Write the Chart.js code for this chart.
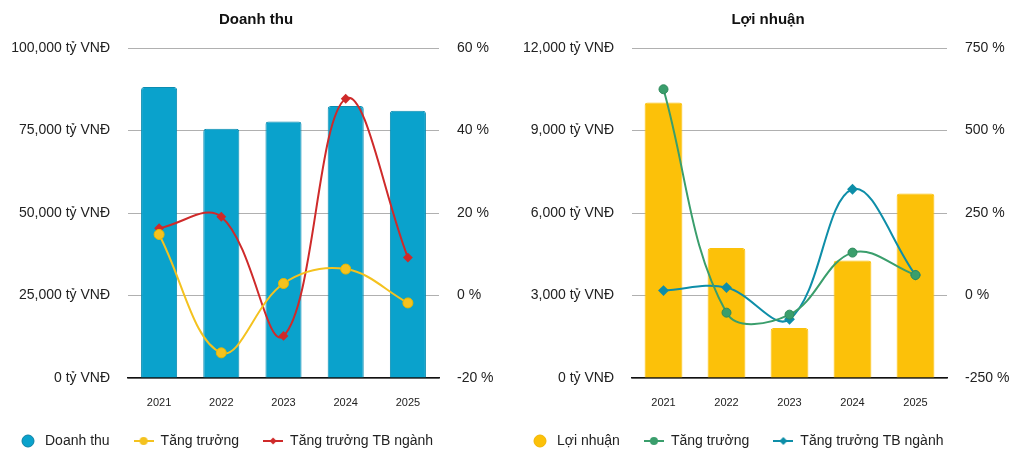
<!DOCTYPE html>
<html lang="vi">
<head>
<meta charset="UTF-8">
<title>Doanh thu - Lợi nhuận</title>
<script src="https://cdn.jsdelivr.net/npm/chart.js"></script>
<style>
  body { margin: 0; background: #fff; }
  .wrap { position: absolute; top: 0; width: 512px; height: 459px; }
  #left { left: 0; }
  #right { left: 512px; }
</style>
</head>
<body>
<div class="wrap" id="left"><canvas id="revChart" width="512" height="459"></canvas></div>
<div class="wrap" id="right"><canvas id="profitChart" width="512" height="459"></canvas></div>

<script>
// dữ liệu
const years = ['2021', '2022', '2023', '2024', '2025'];

const revenue = [88200, 75500, 77700, 82400, 81000];       // tỷ VNĐ
const revGrowth = [14.8, -13.9, 2.9, 6.4, -1.8];            // %
const revIndustry = [16.3, 19.1, -9.8, 47.7, 9.2];          // %

const profit = [10020, 4730, 1820, 4270, 6710];             // tỷ VNĐ
const profitGrowth = [625, -52, -58, 130, 62];              // %
const profitIndustry = [15, 24, -72, 322, 62];              // %

const revTicks = { min: 0, max: 100000, step: 25000 };
const revPctTicks = { min: -20, max: 60, step: 20 };
const profitTicks = { min: 0, max: 12000, step: 3000 };
const profitPctTicks = { min: -250, max: 750, step: 250 };

Chart.defaults.font.family = '"Liberation Sans", Arial, sans-serif';
Chart.defaults.color = '#222';

// icon cho legend
function dotIcon(fill, stroke) {
    const c = document.createElement('canvas');
    c.width = 14; c.height = 14;
    const g = c.getContext('2d');
    g.beginPath();
    g.arc(7, 7, 6, 0, Math.PI * 2);
    g.fillStyle = fill; g.fill();
    g.lineWidth = 1; g.strokeStyle = stroke; g.stroke();
    return c;
}
function lineIcon(color, shape, r) {
    const c = document.createElement('canvas');
    c.width = 20; c.height = 12;
    const g = c.getContext('2d');
    g.strokeStyle = color; g.lineWidth = 2;
    g.beginPath(); g.moveTo(0, 6); g.lineTo(20, 6); g.stroke();
    g.fillStyle = color;
    g.beginPath();
    if (shape === 'circle') {
        g.arc(10, 6, r, 0, Math.PI * 2);
    } else {
        g.moveTo(10, 6 - r); g.lineTo(10 + r, 6); g.lineTo(10, 6 + r); g.lineTo(10 - r, 6); g.closePath();
    }
    g.fill();
    return c;
}

const legendShift = {
    id: 'legendShift',
    afterLayout(chart) {
        chart.legend.left -= 6;
        chart.legend.right -= 6;
    }
};

function makeChart(id, cfg) {
    const ctx = document.getElementById(id).getContext('2d');
    return new Chart(ctx, {
        data: {
            labels: years,
            datasets: [
                {
                    type: 'bar', label: cfg.barLabel, data: cfg.bars, yAxisID: 'y', order: 1,
                    backgroundColor: cfg.barColor, borderColor: cfg.barBorder, borderWidth: 1,
                    borderRadius: 3, borderSkipped: 'bottom',
                    categoryPercentage: 0.8, barPercentage: cfg.barPct
                },
                {
                    type: 'line', label: 'Tăng trưởng', data: cfg.growth, yAxisID: 'y1', order: 0,
                    borderColor: cfg.growthColor, backgroundColor: cfg.growthColor, borderWidth: 2,
                    pointStyle: 'circle', pointRadius: cfg.growthRadius, pointBorderWidth: 1,
                    pointBorderColor: cfg.growthBorder, tension: 0.38
                },
                {
                    type: 'line', label: 'Tăng trưởng TB ngành', data: cfg.industry, yAxisID: 'y1', order: 0,
                    borderColor: cfg.indColor, backgroundColor: cfg.indColor, borderWidth: 2,
                    pointStyle: 'rectRot', pointRadius: cfg.indRadius, tension: 0.38
                }
            ]
        },
        options: {
            responsive: false,
            animation: false,
            layout: { padding: { top: 1, bottom: 1, left: 0, right: 0 } },
            plugins: {
                title: {
                    display: true, text: cfg.title, color: '#111',
                    font: { size: 15, weight: 'bold' }, padding: { top: 10, bottom: 19 }
                },
                legend: {
                    position: 'bottom', align: 'start',
                    labels: {
                        usePointStyle: true, pointStyleWidth: 20, padding: 24,
                        font: { size: 14 }, color: '#222',
                        generateLabels(chart) {
                            const items = Chart.defaults.plugins.legend.labels.generateLabels(chart);
                            items.sort((a, b) => a.datasetIndex - b.datasetIndex);
                            items.forEach(it => { it.pointStyle = cfg.icons[it.datasetIndex]; });
                            return items;
                        }
                    }
                },
                tooltip: { enabled: false }
            },
            scales: {
                x: {
                    grid: { display: false, drawTicks: false },
                    border: { color: '#111', width: 1.5 },
                    ticks: { font: { size: 11 }, padding: 18, color: '#222' },
                    afterFit(s) { s.height = 32; }
                },
                y: {
                    position: 'left', min: cfg.yTicks.min, max: cfg.yTicks.max,
                    grid: { color: '#b0b0b0', drawTicks: false },
                    border: { display: false },
                    ticks: {
                        stepSize: cfg.yTicks.step, padding: 18, font: { size: 14 }, color: '#222',
                        callback: v => v.toLocaleString('en-US') + ' tỷ VNĐ'
                    },
                    afterFit(s) { s.width = cfg.leftW; }
                },
                y1: {
                    position: 'right', min: cfg.pTicks.min, max: cfg.pTicks.max,
                    grid: { display: false, drawTicks: false },
                    border: { display: false },
                    ticks: {
                        stepSize: cfg.pTicks.step, padding: 18, font: { size: 14 }, color: '#222',
                        callback: v => v + ' %'
                    },
                    afterFit(s) { s.width = cfg.rightW; }
                }
            }
        },
        plugins: [legendShift]
    });
}

makeChart('revChart', {
    title: 'Doanh thu', barLabel: 'Doanh thu', bars: revenue, growth: revGrowth, industry: revIndustry,
    barColor: '#0aa2cc', barBorder: '#0b8cb1', barPct: 0.725,
    growthColor: '#f4c21f', growthBorder: '#e8b800', growthRadius: 5,
    indColor: '#cf2a2a', indRadius: 3.5,
    yTicks: revTicks, pTicks: revPctTicks, leftW: 128, rightW: 73,
    icons: [dotIcon('#0aa2cc', '#0b7fa3'), lineIcon('#f4c21f', 'circle', 4), lineIcon('#cf2a2a', 'diamond', 3.5)]
});

makeChart('profitChart', {
    title: 'Lợi nhuận', barLabel: 'Lợi nhuận', bars: profit, growth: profitGrowth, industry: profitIndustry,
    barColor: '#fcc109', barBorder: '#fcc109', barPct: 0.75,
    growthColor: '#3a9e6c', growthBorder: '#2f8a5c', growthRadius: 4.5,
    indColor: '#0e8ea8', indRadius: 4,
    yTicks: profitTicks, pTicks: profitPctTicks, leftW: 120, rightW: 77,
    icons: [dotIcon('#fcc109', '#f0b400'), lineIcon('#3a9e6c', 'circle', 4), lineIcon('#0e8ea8', 'diamond', 4)]
});
</script>
</body>
</html>
